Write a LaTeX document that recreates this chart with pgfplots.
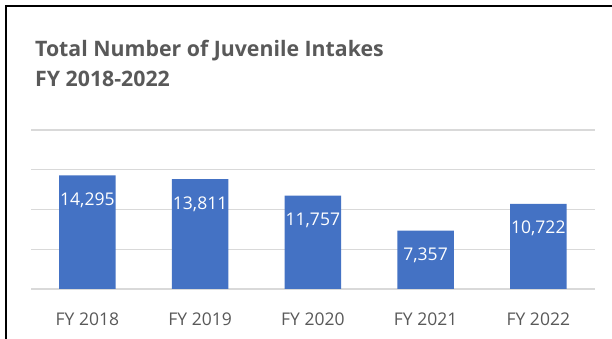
\documentclass[border=0pt]{standalone}
\usepackage{pgfplots}
\pgfplotsset{compat=1.18}
\usepackage{fontspec}
\setmainfont{Open Sans}
\definecolor{barblue}{HTML}{4472C4}
\definecolor{gridgray}{HTML}{D9D9D9}
\definecolor{textgray}{HTML}{595959}
\begin{document}
\begin{tikzpicture}
\useasboundingbox (0,0) rectangle (612bp,339bp);
\fill[white] (0,0) rectangle (612bp,339bp);
\draw[line width=2bp, black] (5.8bp,0) -- (5.8bp,333.3bp) -- (612bp,333.3bp);
\node[anchor=base west, inner sep=0pt, text=textgray, font=\fontsize{21.3bp}{25bp}\selectfont\bfseries] at (35bp,282bp) {Total Number of Juvenile Intakes};
\node[anchor=base west, inner sep=0pt, text=textgray, font=\fontsize{21.3bp}{25bp}\selectfont\bfseries] at (35bp,252bp) {FY 2018-2022};
\begin{axis}[
  at={(31bp,50bp)}, anchor=south west,
  scale only axis, width=563.7bp, height=159bp,
  xmin=-0.5, xmax=4.5, ymin=0, ymax=20000,
  scaled y ticks=false,
  ytick={0,5000,10000,15000,20000}, yticklabels={},
  ymajorgrids, grid style={gridgray, line width=1.2bp},
  axis line style={draw=none},
  major tick style={draw=none},
  xtick=data,
  xticklabels={FY 2018,FY 2019,FY 2020,FY 2021,FY 2022},
  xticklabel style={anchor=center, yshift=-26bp, text=textgray, font=\fontsize{17.5bp}{20bp}\selectfont},
  ybar, bar width=56.5bp,
  /pgf/number format/assume math mode=true,
  /pgf/number format/1000 sep={,},
  nodes near coords,
  every node near coord/.append style={anchor=center, yshift=-25bp, text=white, font=\fontsize{17.5bp}{20bp}\selectfont},
]
\addplot[fill=barblue, draw=none] coordinates {(0,14295) (1,13811) (2,11757) (3,7357) (4,10722)};
\end{axis}
\end{tikzpicture}
\end{document}
